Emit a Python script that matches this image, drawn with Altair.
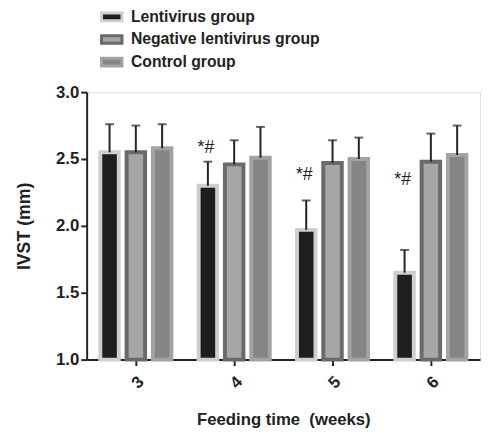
import altair as alt
import pandas as pd

weeks = ["3", "4", "5", "6"]
groups = ["Lentivirus group", "Negative lentivirus group", "Control group"]
lenti_mean = [2.55, 2.30, 1.97, 1.65]
lenti_err = [0.21, 0.18, 0.22, 0.17]
neg_mean = [2.55, 2.46, 2.47, 2.48]
neg_err = [0.20, 0.18, 0.17, 0.21]
ctrl_mean = [2.58, 2.51, 2.50, 2.53]
ctrl_err = [0.18, 0.23, 0.16, 0.22]
annot_week = ["4", "5", "6"]
annot_text = ["*#", "*#", "*#"]
annot_y = [2.58, 2.38, 2.34]

rows = []
for g, m, e in zip(groups, [lenti_mean, neg_mean, ctrl_mean], [lenti_err, neg_err, ctrl_err]):
    for w, mv, ev in zip(weeks, m, e):
        rows.append({"week": w, "group": g, "mean": mv, "upper": mv + ev})
df = pd.DataFrame(rows)
ann = pd.DataFrame({"week": annot_week, "text": annot_text, "y": annot_y, "group": [groups[0]] * 3})

FONT = "Liberation Sans"
fills = ["#1e1e1e", "#a6a6a6", "#858585"]
strokes = ["#cfcfcf", "#6a6a6a", "#a3a3a3"]

x = alt.X("week:N", sort=weeks, scale=alt.Scale(paddingInner=0, paddingOuter=0),
          axis=alt.Axis(title="Feeding time\u00a0\u00a0(weeks)", labelAngle=315, labelFontSize=17,
                        labelFont=FONT, labelFontWeight="bold", labelColor="#222",
                        titleFont=FONT, titleFontSize=17, titleFontWeight="bold",
                        titleColor="#222", titlePadding=21, domainColor="#222",
                        domainWidth=2, tickColor="#222", tickWidth=2, tickSize=6,
                        labelPadding=8))
xo = alt.XOffset("group:N", sort=groups, scale=alt.Scale(paddingInner=0.296, paddingOuter=0.518))
yscale = alt.Scale(domain=[1, 3], nice=False, zero=False)

bars = alt.Chart(df).mark_bar(strokeWidth=4).encode(
    x=x,
    xOffset=xo,
    y=alt.Y("mean:Q", scale=yscale,
            axis=alt.Axis(title="IVST (mm)", values=[1.0, 1.5, 2.0, 2.5, 3.0], format=".1f",
                          labelFontSize=17, labelFont=FONT, labelFontWeight="bold",
                          labelColor="#222", titleFont=FONT, titleFontSize=18,
                          titleFontWeight="bold", titleColor="#222", titlePadding=22,
                          domainColor="#222", domainWidth=2, tickColor="#222",
                          tickWidth=2, tickSize=6, grid=False)),
    y2=alt.Y2(datum=1),
    fill=alt.Fill("group:N", sort=groups, scale=alt.Scale(domain=groups, range=fills),
                  legend=alt.Legend(title=None, orient="none", legendX=15, legendY=-87,
                                    symbolType="M-1.2,-0.45H1.2V0.45H-1.2Z", symbolSize=300,
                                    symbolStrokeWidth=3, labelFont=FONT, labelFontSize=16,
                                    labelFontWeight="bold", labelColor="#222", labelLimit=0,
                                    rowPadding=2, labelOffset=9, symbolOpacity=1)),
    stroke=alt.Stroke("group:N", sort=groups, scale=alt.Scale(domain=groups, range=strokes)),
)

err = alt.Chart(df).mark_rule(color="#222", strokeWidth=2).encode(
    x=x, xOffset=xo, y=alt.Y("mean:Q", scale=yscale), y2="upper:Q")
cap = alt.Chart(df).mark_tick(color="#222", thickness=2, size=9).encode(
    x=x, xOffset=xo, y=alt.Y("upper:Q", scale=yscale))
txt = alt.Chart(ann).mark_text(font=FONT, fontSize=18, color="#222", dx=-2).encode(
    x=x, xOffset=xo, y=alt.Y("y:Q", scale=yscale), text="text:N")

chart = alt.layer(bars, err, cap, txt).properties(
    width=400, height=272,
    autosize=alt.AutoSizeParams(type="none"),
    padding={"top": 82, "left": 80, "right": 2, "bottom": 66}
).configure_view(stroke=None).configure(background="white")

chart.save("out.html", embed_options={"renderer": "svg", "actions": False})
